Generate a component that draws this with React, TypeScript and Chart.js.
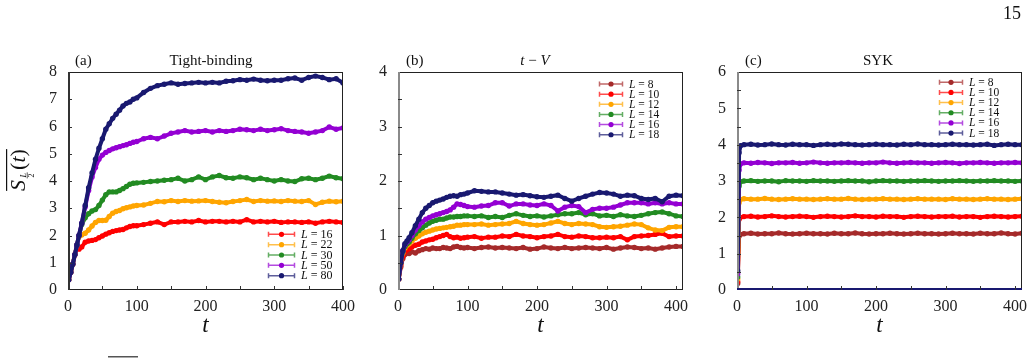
import React, { useEffect, useRef } from 'react';
import { Chart, registerables } from 'chart.js';
Chart.register(...registerables);

const SERIF = '"Liberation Serif", "Times New Roman", serif';

// ---------- data ----------
const T_A = [1, 4, 7, 10, 13, 16, 20, 25, 30, 35, 40, 45, 50, 55, 60, 65, 70, 75, 80, 85, 90, 95, 100,
  110, 120, 130, 140, 150, 160, 170, 180, 190, 200, 210, 220, 230, 240, 250, 260, 270, 280, 290, 300,
  310, 320, 330, 340, 350, 360, 370, 380, 390, 400];
const T_B = [...T_A, 410];
const T_C = [1, 3, 5, 10, 20, 30, 40, 50, 60, 70, 80, 90, 100, 110, 120, 130, 140, 150, 160, 170, 180, 190,
  200, 210, 220, 230, 240, 250, 260, 270, 280, 290, 300, 310, 320, 330, 340, 350, 360, 370, 380, 390, 400, 410];

const X_TICKS = [0, 100, 200, 300, 400];
const X_MARKS = [50, 100, 150, 200, 250, 300, 350, 400];
const Y_TICKS_A = [0, 1, 2, 3, 4, 5, 6, 7, 8];
const Y_TICKS_B = [0, 1, 2, 3, 4];
const Y_TICKS_C = [0, 1, 2, 3, 4, 5, 6];
const Y_MARKS_A = [1, 2, 3, 4, 5, 6, 7];
const Y_MARKS_B = [0.5, 1, 1.5, 2, 2.5, 3, 3.5];
const Y_MARKS_C = [0.5, 1, 1.5, 2, 2.5, 3, 3.5, 4, 4.5, 5, 5.5];

const L_A = [16, 22, 30, 50, 80];
const L_BC = [8, 10, 12, 14, 16, 18];

// Panel (a) Tight-binding
const A_L16 = [0.38, 0.65, 0.95, 1.3, 1.52, 1.5, 1.58, 1.75, 1.8, 1.82, 1.85, 1.92, 1.98, 2.05, 2.1, 2.15, 2.18, 2.2, 2.22, 2.28, 2.33, 2.36, 2.36,
  2.4, 2.45, 2.5, 2.4, 2.5, 2.5, 2.52, 2.5, 2.55, 2.5, 2.52, 2.52, 2.5, 2.52, 2.5, 2.58, 2.5, 2.52, 2.5, 2.52, 2.48, 2.5, 2.5, 2.48, 2.5, 2.45, 2.5, 2.52, 2.5, 2.48];
const A_L22 = [0.38, 0.65, 0.95, 1.3, 1.65, 1.95, 2.02, 2.08, 2.2, 2.35, 2.48, 2.55, 2.55, 2.56, 2.7, 2.82, 2.88, 2.92, 2.98, 3.02, 3.05, 3.08, 3.1,
  3.12, 3.18, 3.25, 3.24, 3.28, 3.25, 3.28, 3.26, 3.27, 3.28, 3.25, 3.22, 3.2, 3.25, 3.28, 3.32, 3.25, 3.28, 3.26, 3.27, 3.25, 3.28, 3.26, 3.25, 3.28, 3.14, 3.22, 3.26, 3.24, 3.26];
const A_L30 = [0.38, 0.65, 0.95, 1.3, 1.65, 2.0, 2.4, 2.65, 2.8, 2.9, 2.95, 3.1, 3.3, 3.5, 3.6, 3.6, 3.6, 3.65, 3.72, 3.8, 3.88, 3.92, 3.93,
  3.95, 3.98, 4.0, 4.03, 4.05, 4.1, 4.0, 4.05, 4.15, 4.05, 4.15, 4.2, 4.12, 4.1, 4.15, 4.12, 4.05, 4.1, 4.05, 4.0, 4.05, 4.0, 3.98, 4.08, 4.1, 4.05, 4.1, 4.18, 4.12, 4.08];
const A_L50 = [0.38, 0.65, 0.95, 1.3, 1.65, 2.0, 2.45, 3.05, 3.65, 4.15, 4.5, 4.8, 4.95, 5.05, 5.12, 5.18, 5.22, 5.26, 5.3, 5.33, 5.38, 5.42, 5.45,
  5.55, 5.6, 5.55, 5.65, 5.75, 5.8, 5.85, 5.8, 5.82, 5.85, 5.8, 5.85, 5.82, 5.85, 5.9, 5.88, 5.85, 5.9, 5.85, 5.88, 5.92, 5.85, 5.82, 5.8, 5.75, 5.8, 5.85, 5.98, 5.9, 5.95];
const A_L80 = [0.38, 0.65, 0.95, 1.3, 1.65, 2.0, 2.45, 3.1, 3.75, 4.3, 4.8, 5.2, 5.55, 5.9, 6.1, 6.3, 6.45, 6.6, 6.75, 6.85, 6.9, 7.0, 7.05,
  7.25, 7.4, 7.5, 7.55, 7.6, 7.55, 7.58, 7.6, 7.62, 7.6, 7.62, 7.6, 7.66, 7.68, 7.72, 7.7, 7.74, 7.7, 7.68, 7.7, 7.7, 7.75, 7.78, 7.7, 7.8, 7.85, 7.8, 7.72, 7.75, 7.6];

// Panel (b) t-V
const B_L8 = [0.2, 0.42, 0.58, 0.65, 0.68, 0.67, 0.7, 0.68, 0.72, 0.74, 0.76, 0.75, 0.77, 0.76, 0.76, 0.78, 0.77, 0.76, 0.79, 0.8, 0.78, 0.77, 0.78,
  0.76, 0.78, 0.79, 0.77, 0.78, 0.77, 0.76, 0.78, 0.75, 0.76, 0.79, 0.77, 0.76, 0.78, 0.76, 0.77, 0.78, 0.77, 0.76, 0.78, 0.75, 0.77, 0.79, 0.78, 0.76, 0.77, 0.75, 0.77, 0.79, 0.8, 0.8];
const B_L10 = [0.2, 0.45, 0.62, 0.7, 0.74, 0.76, 0.79, 0.82, 0.84, 0.88, 0.9, 0.92, 0.93, 0.96, 0.98, 1.0, 1.02, 0.98, 0.96, 0.97, 0.95, 0.96, 0.97,
  0.98, 0.95, 0.97, 0.97, 0.99, 0.98, 1.02, 0.99, 0.98, 0.96, 0.98, 0.99, 1.02, 0.98, 0.97, 0.99, 0.98, 0.96, 0.96, 0.97, 0.96, 0.98, 0.92, 0.98, 0.99, 1.0, 1.02, 1.04, 0.98, 0.99, 0.99];
const B_L12 = [0.2, 0.48, 0.68, 0.77, 0.82, 0.85, 0.9, 0.95, 0.99, 1.03, 1.06, 1.08, 1.1, 1.12, 1.13, 1.14, 1.15, 1.16, 1.17, 1.19, 1.19, 1.2, 1.2,
  1.2, 1.21, 1.19, 1.2, 1.21, 1.22, 1.26, 1.22, 1.2, 1.19, 1.2, 1.23, 1.26, 1.22, 1.2, 1.22, 1.21, 1.2, 1.16, 1.15, 1.16, 1.17, 1.19, 1.21, 1.2, 1.14, 1.1, 1.09, 1.15, 1.16, 1.16];
const B_L14 = [0.2, 0.5, 0.7, 0.8, 0.85, 0.88, 0.95, 1.03, 1.09, 1.14, 1.19, 1.23, 1.26, 1.28, 1.3, 1.3, 1.32, 1.34, 1.34, 1.35, 1.35, 1.36, 1.36,
  1.35, 1.36, 1.33, 1.35, 1.33, 1.37, 1.4, 1.37, 1.35, 1.36, 1.34, 1.36, 1.38, 1.4, 1.4, 1.42, 1.38, 1.4, 1.36, 1.37, 1.35, 1.38, 1.36, 1.35, 1.37, 1.4, 1.42, 1.43, 1.4, 1.36, 1.35];
const B_L16 = [0.2, 0.5, 0.72, 0.83, 0.88, 0.92, 1.0, 1.1, 1.18, 1.25, 1.3, 1.33, 1.36, 1.38, 1.4, 1.42, 1.44, 1.47, 1.52, 1.58, 1.57, 1.55, 1.53,
  1.52, 1.54, 1.55, 1.6, 1.6, 1.54, 1.58, 1.58, 1.56, 1.55, 1.58, 1.55, 1.45, 1.52, 1.55, 1.53, 1.42, 1.48, 1.5, 1.5, 1.52, 1.56, 1.6, 1.6, 1.6, 1.58, 1.6, 1.58, 1.6, 1.58, 1.58];
const B_L18 = [0.2, 0.5, 0.72, 0.85, 0.9, 0.96, 1.05, 1.18, 1.3, 1.42, 1.5, 1.55, 1.6, 1.63, 1.65, 1.67, 1.7, 1.72, 1.73, 1.72, 1.75, 1.76, 1.78,
  1.82, 1.81, 1.8, 1.8, 1.78, 1.76, 1.74, 1.75, 1.73, 1.71, 1.7, 1.72, 1.74, 1.68, 1.63, 1.68, 1.72, 1.76, 1.79, 1.78, 1.76, 1.72, 1.74, 1.73, 1.68, 1.66, 1.68, 1.62, 1.72, 1.74, 1.73];

// Panel (c) SYK
const C_L8 = [0.18, 1.48, 1.53, 1.55, 1.56, 1.54, 1.55, 1.55, 1.57, 1.55, 1.54, 1.55, 1.56, 1.55, 1.55, 1.54, 1.56, 1.55, 1.55, 1.57, 1.55, 1.54,
  1.55, 1.55, 1.56, 1.55, 1.54, 1.55, 1.56, 1.55, 1.55, 1.54, 1.55, 1.56, 1.55, 1.55, 1.54, 1.56, 1.55, 1.55, 1.57, 1.55, 1.54, 1.56];
const C_L10 = [0.23, 1.95, 2.0, 2.02, 2.03, 2.01, 2.02, 2.04, 2.02, 2.01, 2.02, 2.03, 2.02, 2.0, 2.02, 2.03, 2.02, 2.01, 2.02, 2.04, 2.02, 2.02,
  2.01, 2.03, 2.02, 2.02, 2.0, 2.02, 2.03, 2.02, 2.01, 2.02, 2.02, 2.03, 2.01, 2.02, 2.02, 2.0, 2.02, 2.03, 2.02, 2.01, 2.02, 2.03];
const C_L12 = [0.3, 2.4, 2.49, 2.51, 2.5, 2.5, 2.52, 2.5, 2.49, 2.5, 2.51, 2.5, 2.5, 2.49, 2.5, 2.51, 2.5, 2.5, 2.52, 2.5, 2.49, 2.5,
  2.5, 2.51, 2.5, 2.5, 2.49, 2.5, 2.51, 2.5, 2.5, 2.5, 2.49, 2.51, 2.5, 2.5, 2.49, 2.5, 2.51, 2.5, 2.5, 2.49, 2.5, 2.51];
const C_L14 = [0.36, 2.86, 2.98, 3.0, 3.01, 2.99, 3.0, 3.0, 2.98, 3.01, 3.0, 3.0, 2.99, 3.01, 3.0, 3.0, 2.99, 3.0, 3.01, 3.0, 3.0, 2.98,
  3.0, 3.01, 3.0, 3.0, 2.99, 3.0, 3.0, 3.01, 3.0, 2.99, 3.0, 3.0, 3.01, 3.0, 2.99, 3.0, 3.0, 3.01, 3.0, 3.0, 2.99, 3.0];
const C_L16 = [0.44, 3.3, 3.47, 3.5, 3.49, 3.51, 3.5, 3.48, 3.5, 3.5, 3.51, 3.49, 3.5, 3.52, 3.5, 3.49, 3.5, 3.5, 3.51, 3.5, 3.49, 3.5,
  3.5, 3.52, 3.5, 3.49, 3.5, 3.51, 3.5, 3.5, 3.49, 3.5, 3.51, 3.5, 3.48, 3.5, 3.5, 3.51, 3.5, 3.49, 3.5, 3.5, 3.51, 3.5];
const C_L18 = [0.53, 3.78, 3.97, 4.0, 4.01, 3.99, 4.0, 4.02, 4.0, 3.99, 4.01, 4.0, 4.0, 3.98, 4.0, 4.01, 4.0, 4.02, 4.01, 4.0, 3.99, 4.0,
  4.01, 4.0, 4.0, 3.99, 4.01, 4.0, 4.02, 4.0, 4.0, 3.99, 4.0, 4.01, 4.0, 4.0, 3.99, 4.0, 4.01, 3.98, 4.0, 4.01, 4.0, 4.0];

const BROWN = '#a52a2a';
const RED = '#ff0000';
const ORANGE = '#ffa500';
const GREEN = '#228b22';
const PURPLE = '#9400d3';
const NAVY = '#191970';

const COLORS_A = [RED, ORANGE, GREEN, PURPLE, NAVY];
const COLORS_BC = [BROWN, RED, ORANGE, GREEN, PURPLE, NAVY];

type Rich = { text: string; italic?: boolean };

function richWidth(ctx: CanvasRenderingContext2D, parts: Rich[], size: number) {
  let w = 0;
  for (const p of parts) {
    ctx.font = `${p.italic ? 'italic ' : ''}${size}px ${SERIF}`;
    w += ctx.measureText(p.text).width;
  }
  return w;
}

function drawRich(ctx: CanvasRenderingContext2D, parts: Rich[], x: number, y: number, size: number, align: 'left' | 'center') {
  const w = richWidth(ctx, parts, size);
  let cx = align === 'center' ? x - w / 2 : x;
  ctx.textAlign = 'left';
  ctx.textBaseline = 'middle';
  for (const p of parts) {
    ctx.font = `${p.italic ? 'italic ' : ''}${size}px ${SERIF}`;
    ctx.fillText(p.text, cx, y);
    cx += ctx.measureText(p.text).width;
  }
}

type PanelCfg = {
  key: string;
  canvasLeft: number;
  width: number;
  yW: number;
  padR: number;
  xMax: number;
  yMax: number;
  yTicks: number[];
  yMarks: number[];
  times: number[];
  series: number[][];
  colors: string[];
  labels: number[];
  tag: string;
  tagX: number;
  title: Rich[];
  titleX: number;
  legLine: [number, number];
  legTextX: number;
  legY0: number;
  legDy: number;
  legSize: number;
  leftColor: string;
  bottomColor?: string;
  yLabel?: boolean;
  pageNum?: boolean;
  overline?: boolean;
};

const PANELS: PanelCfg[] = [
  {
    key: 'a', canvasLeft: 0, width: 362, yW: 68, padR: 19, xMax: 400, yMax: 8,
    yTicks: Y_TICKS_A, yMarks: Y_MARKS_A, times: T_A,
    series: [A_L16, A_L22, A_L30, A_L50, A_L80], colors: COLORS_A, labels: L_A,
    tag: '(a)', tagX: 75, title: [{ text: 'Tight-binding' }], titleX: 211,
    legLine: [268, 295], legTextX: 301, legY0: 234.3, legDy: 10.35, legSize: 12,
    leftColor: '#333', yLabel: true, overline: true,
  },
  {
    key: 'b', canvasLeft: 340, width: 362, yW: 58, padR: 19, xMax: 410, yMax: 4,
    yTicks: Y_TICKS_B, yMarks: Y_MARKS_B, times: T_B,
    series: [B_L8, B_L10, B_L12, B_L14, B_L16, B_L18], colors: COLORS_BC, labels: L_BC,
    tag: '(b)', tagX: 406, title: [{ text: 't', italic: true }, { text: ' \u2212 ' }, { text: 'V', italic: true }], titleX: 535,
    legLine: [599, 623], legTextX: 629, legY0: 84, legDy: 10.15, legSize: 11.5,
    leftColor: '#8a8a8a',
  },
  {
    key: 'c', canvasLeft: 679, width: 350, yW: 58, padR: 7, xMax: 410, yMax: 6,
    yTicks: Y_TICKS_C, yMarks: Y_MARKS_C, times: T_C,
    series: [C_L8, C_L10, C_L12, C_L14, C_L16, C_L18], colors: COLORS_BC, labels: L_BC,
    tag: '(c)', tagX: 745, title: [{ text: 'SYK' }], titleX: 878,
    legLine: [939, 963], legTextX: 969, legY0: 82.3, legDy: 10.15, legSize: 11.5,
    leftColor: '#8a8a8a', bottomColor: NAVY, pageNum: true,
  },
];

function decor(p: PanelCfg) {
  return {
    id: 'decor_' + p.key,
    afterDraw(chart: any) {
      const ctx: CanvasRenderingContext2D = chart.ctx;
      const { left, right, top, bottom } = chart.chartArea;
      const xs = chart.scales.x;
      const ys = chart.scales.y;
      const ox = p.canvasLeft;
      ctx.save();
      // frame
      ctx.strokeStyle = '#222';
      ctx.lineWidth = 1;
      ctx.strokeRect(left + 0.5, top + 0.5, right - left - 1, bottom - top - 1);
      ctx.strokeStyle = p.leftColor;
      ctx.lineWidth = 2;
      ctx.beginPath();
      ctx.moveTo(left + 1, top);
      ctx.lineTo(left + 1, bottom);
      ctx.stroke();
      if (p.bottomColor) {
        ctx.strokeStyle = p.bottomColor;
        ctx.beginPath();
        ctx.moveTo(left, bottom - 1);
        ctx.lineTo(right, bottom - 1);
        ctx.stroke();
      }
      // inward tick marks
      ctx.strokeStyle = '#333';
      ctx.lineWidth = 1;
      ctx.beginPath();
      for (const v of X_MARKS) {
        const x = Math.round(xs.getPixelForValue(v)) + 0.5;
        ctx.moveTo(x, bottom);
        ctx.lineTo(x, bottom - 4);
      }
      for (const v of p.yMarks) {
        const y = Math.round(ys.getPixelForValue(v)) + 0.5;
        ctx.moveTo(left, y);
        ctx.lineTo(left + 4, y);
      }
      ctx.stroke();
      // titles
      ctx.fillStyle = '#111';
      drawRich(ctx, [{ text: p.tag }], p.tagX - ox, 61, 15, 'left');
      drawRich(ctx, p.title, p.titleX - ox, 61, 15, 'center');
      // x axis title
      drawRich(ctx, [{ text: 't', italic: true }], (left + right) / 2, 326, 23, 'center');
      // legend
      p.labels.forEach((lab, i) => {
        const y = p.legY0 + i * p.legDy;
        const x0 = p.legLine[0] - ox;
        const x1 = p.legLine[1] - ox;
        const col = p.colors[i];
        ctx.strokeStyle = col;
        ctx.globalAlpha = 0.7;
        ctx.lineWidth = 1.5;
        ctx.beginPath();
        ctx.moveTo(x0, y);
        ctx.lineTo(x1, y);
        ctx.moveTo(x0 + 0.5, y - 2.5);
        ctx.lineTo(x0 + 0.5, y + 2.5);
        ctx.moveTo(x1 - 0.5, y - 2.5);
        ctx.lineTo(x1 - 0.5, y + 2.5);
        ctx.stroke();
        ctx.globalAlpha = 1;
        ctx.fillStyle = col;
        ctx.beginPath();
        ctx.arc((x0 + x1) / 2, y, 2.6, 0, Math.PI * 2);
        ctx.fill();
        ctx.fillStyle = '#111';
        drawRich(ctx, [{ text: 'L', italic: true }, { text: ' = ' + lab }], p.legTextX - ox, y + 0.5, p.legSize, 'left');
      });
      // y axis label (panel a)
      if (p.yLabel) {
        const cx = 25;
        const cy = 170;
        ctx.translate(cx, cy);
        ctx.rotate(-Math.PI / 2);
        ctx.fillStyle = '#111';
        ctx.textBaseline = 'alphabetic';
        ctx.textAlign = 'left';
        const sFont = `italic 22px ${SERIF}`;
        ctx.font = sFont;
        const sW = ctx.measureText('S').width;
        const fracW = 7;
        ctx.font = `22px ${SERIF}`;
        const lpW = ctx.measureText('(').width;
        ctx.font = `italic 22px ${SERIF}`;
        const tW = ctx.measureText('t').width;
        const total = sW + 1 + fracW + 2 + lpW * 2 + tW;
        let u = -total / 2;
        ctx.font = sFont;
        ctx.fillText('S', u, 0);
        u += sW + 1;
        ctx.font = `italic 8px ${SERIF}`;
        ctx.textAlign = 'center';
        ctx.fillText('L', u + fracW / 2, 0.5);
        ctx.font = `8px ${SERIF}`;
        ctx.fillText('2', u + fracW / 2, 8.5);
        ctx.fillRect(u + 0.5, 1.8, fracW - 1, 0.7);
        ctx.textAlign = 'left';
        u += fracW + 2;
        ctx.font = `22px ${SERIF}`;
        ctx.fillText('(', u, 0);
        u += lpW;
        ctx.font = `italic 22px ${SERIF}`;
        ctx.fillText('t', u, 0);
        u += tW;
        ctx.font = `22px ${SERIF}`;
        ctx.fillText(')', u, 0);
        ctx.fillRect(-total / 2, -19, total, 1.2);
        ctx.setTransform(1, 0, 0, 1, 0, 0);
      }
      if (p.pageNum) {
        ctx.fillStyle = '#111';
        drawRich(ctx, [{ text: '15' }], 1003 - ox, 14, 18, 'left');
      }
      if (p.overline) {
        ctx.fillStyle = '#555';
        ctx.fillRect(108 - ox, 356, 30, 1.5);
      }
      ctx.restore();
    },
  };
}

function buildChart(canvas: HTMLCanvasElement, p: PanelCfg) {
  const n = p.series.length;
  const datasets = p.series.map((vals, i) => ({
    label: 'L = ' + p.labels[i],
    data: vals.map((v, j) => ({ x: p.times[j], y: v })),
    borderColor: p.colors[i],
    backgroundColor: p.colors[i],
    pointBackgroundColor: p.colors[i],
    pointBorderWidth: 0,
    pointRadius: 2.7,
    borderWidth: 4,
    tension: 0,
    fill: false,
    order: n - i,
  }));
  const tickFont = { family: SERIF, size: 16 };
  return new Chart(canvas, {
    type: 'line',
    data: { datasets },
    options: {
      animation: false,
      responsive: false,
      maintainAspectRatio: false,
      layout: { padding: { left: 0, right: p.padR, top: 72, bottom: 0 } },
      plugins: { legend: { display: false }, tooltip: { enabled: false }, title: { display: false } },
      scales: {
        x: {
          type: 'linear',
          min: 0,
          max: p.xMax,
          grid: { display: false, drawTicks: false },
          border: { display: false },
          afterBuildTicks: (s: any) => { s.ticks = X_TICKS.map((v) => ({ value: v })); },
          afterFit: (s: any) => { s.height = 71; s.paddingLeft = 0; s.paddingRight = 0; },
          ticks: { font: tickFont, color: '#222', padding: 7, maxRotation: 0, autoSkip: false, callback: (v: any) => String(v) },
        },
        y: {
          type: 'linear',
          min: 0,
          max: p.yMax,
          grid: { display: false, drawTicks: false },
          border: { display: false },
          afterBuildTicks: (s: any) => { s.ticks = p.yTicks.map((v) => ({ value: v })); },
          afterFit: (s: any) => { s.width = p.yW; s.paddingTop = 0; s.paddingBottom = 0; },
          ticks: { font: tickFont, color: '#222', padding: 11, autoSkip: false, callback: (v: any) => String(v) },
        },
      },
    } as any,
    plugins: [decor(p)],
  });
}

function Panel({ p }: { p: PanelCfg }) {
  const ref = useRef<HTMLCanvasElement>(null);
  useEffect(() => {
    const chart = buildChart(ref.current as HTMLCanvasElement, p);
    return () => chart.destroy();
  }, []);
  return (
    <canvas
      ref={ref}
      width={p.width}
      height={361}
      style={{ position: 'absolute', left: p.canvasLeft, top: 0, width: p.width, height: 361 }}
    />
  );
}

export default function App() {
  return (
    <div style={{ position: 'absolute', left: 0, top: 0, width: 1029, height: 361, background: '#fff', overflow: 'hidden' }}>
      {PANELS.map((p) => (
        <Panel key={p.key} p={p} />
      ))}
    </div>
  );
}
